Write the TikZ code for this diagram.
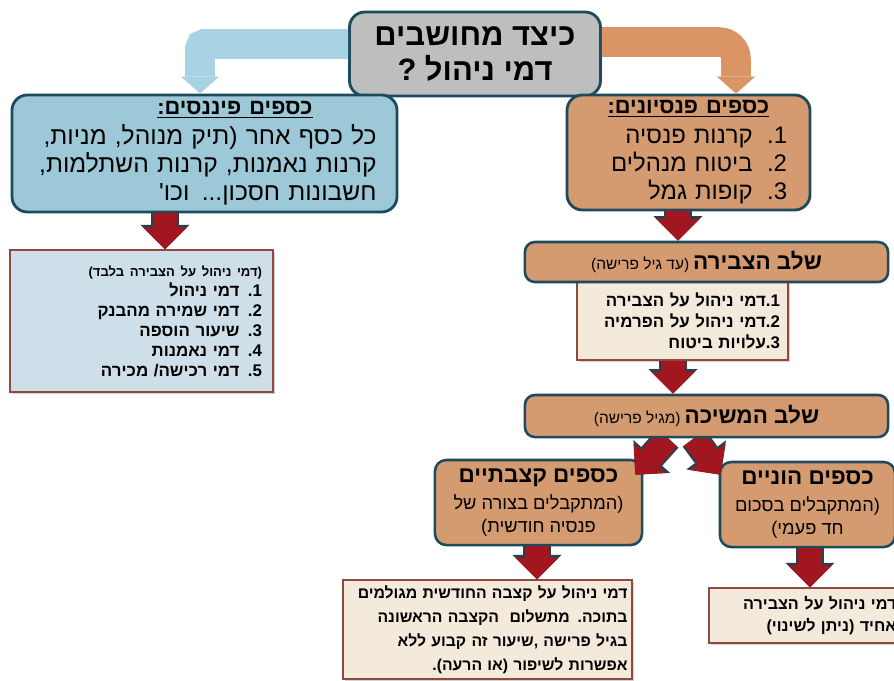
\documentclass[tikz,border=0pt]{standalone}
\usepackage{fontspec}
\setmainfont[Script=Hebrew,Ligatures=TeXOff]{Liberation Sans}
\usetikzlibrary{calc,arrows.meta,shadows,backgrounds}
\TeXXeTstate=1
\newcommand{\hb}[1]{\beginR#1\endR}
\definecolor{edge}{HTML}{1D4A5C}
\definecolor{grayfill}{HTML}{BEBEBE}
\definecolor{bluefill}{HTML}{9DC8D8}
\definecolor{bluelink}{HTML}{A9D3E3}
\definecolor{orangefill}{HTML}{D49A70}
\definecolor{orangelink}{HTML}{DA9466}
\definecolor{arrowred}{HTML}{A1161F}
\definecolor{arrowedge}{HTML}{2C3F4F}
\definecolor{listblue}{HTML}{CFDFE9}
\definecolor{listedge}{HTML}{8E4B3D}
\definecolor{cream}{HTML}{F4EADC}

\begin{document}
\begin{tikzpicture}[x=0.025cm, y=-0.025cm,
  bigbox/.style={draw=edge, line width=2pt, rounded corners=11pt, inner sep=0pt},
  stagebox/.style={draw=edge, line width=1.8pt, rounded corners=7pt, fill=orangefill, inner sep=0pt},
  listbox/.style={draw=listedge, line width=0.8pt, inner sep=0pt, drop shadow={opacity=0.35,shadow xshift=1.5pt,shadow yshift=-1.5pt}},
  fat/.style={draw=arrowred, line width=17pt, -{Triangle[width=31pt,length=15.5pt,line width=0pt]},
    preaction={draw=arrowedge, line width=20pt, -{Triangle[width=35pt,length=17.5pt,line width=0pt]}}},
  link/.style={line width=21pt, -{Triangle[width=27pt,length=12pt,line width=0pt]}}]
\useasboundingbox (0,0) rectangle (894,680);
\clip (0,0) rectangle (894,680);

\node[bigbox, fill=grayfill, minimum width=6.275cm, minimum height=2.1cm, align=center,
  font=\fontsize{22}{24.5}\selectfont\bfseries] (title) at (475,54) {\hb{כיצד מחושבים}\\\hb{דמי ניהול ?}};
\node[bigbox, fill=bluefill, minimum width=9.625cm, minimum height=2.925cm, text width=8.6cm, align=right,
  font=\fontsize{17.5}{20}\selectfont] (fin) at (204.5,153.5)
  {\hbox to\linewidth{\hfill{\fontsize{15.5}{18}\selectfont\bfseries\underline{\hb{כספים פיננסים:}}}\hspace{1.6cm}}\\[1pt]
   \hb{כל כסף אחר (תיק מנוהל, מניות,}\\\hb{קרנות נאמנות, קרנות השתלמות,}\\\hb{חשבונות חסכון... וכו'}};
\node[bigbox, fill=orangefill, minimum width=6.075cm, minimum height=2.875cm, text width=4.925cm, align=right,
  font=\fontsize{17}{20}\selectfont] (pens) at (688.5,152.5)
  {\hbox to\linewidth{\hfill{\fontsize{15.5}{18}\selectfont\bfseries\underline{\hb{כספים פנסיונים:}}}\hfill}\\[1pt]
   \hb{1.\hspace{0.6em}קרנות פנסיה}\\\hb{2.\hspace{0.6em}ביטוח מנהלים}\\\hb{3.\hspace{0.6em}קופות גמל}};

\coordinate (b1) at (200,44);
\coordinate (o1) at (736,42);
\draw[link, bluelink, rounded corners=3pt] (title.west |- b1) -| (fin.north -| b1);
\draw[link, orangelink, rounded corners=12pt] (title.east |- o1) -| (pens.north -| o1);

\node[listbox, fill=listblue, minimum width=6.575cm, minimum height=3.55cm, text width=6.025cm, align=right,
  font=\fontsize{12}{14.2}\selectfont\bfseries] (finlist) at (141.5,321)
  {{\fontsize{9.3}{12}\selectfont\hb{(דמי ניהול על הצבירה בלבד)}}\\\hb{1. דמי ניהול}\\\hb{2. דמי שמירה מהבנק}\\
   \hb{3. שיעור הוספה}\\\hb{4. דמי נאמנות}\\\hb{5. דמי רכישה/ מכירה}};

\node[listbox, fill=cream, minimum width=5.275cm, minimum height=1.95cm, text width=4.875cm, align=right,
  font=\fontsize{12}{15}\selectfont\bfseries] (acclist) at (682.5,321)
  {\hb{1.דמי ניהול על הצבירה}\\\hb{2.דמי ניהול על הפרמיה}\\\hb{3.עלויות ביטוח}};
\node[stagebox, minimum width=9.075cm, minimum height=1cm] (acc) at (706.5,262)
  {\hb{{\fontsize{16}{18}\selectfont\bfseries שלב הצבירה} {\fontsize{11}{13}\selectfont(עד גיל פרישה)}}};
\node[stagebox, minimum width=9.075cm, minimum height=1.05cm] (wd) at (706.5,416)
  {\hb{{\fontsize{16}{18}\selectfont\bfseries שלב המשיכה} {\fontsize{11}{13}\selectfont(מגיל פרישה)}}};

\coordinate (c6) at (668,0);
\coordinate (c7) at (694,0);
\begin{scope}[on background layer]
\node[stagebox, rounded corners=8pt, minimum width=5.175cm, minimum height=2.125cm, align=center,
  font=\fontsize{13}{16}\selectfont] (ann) at (538.5,502.5)
  {{\fontsize{16}{20}\selectfont\bfseries\hb{כספים קצבתיים}}\\[3pt]\hb{(המתקבלים בצורה של}\\\hb{פנסיה חודשית)}};
\node[stagebox, rounded corners=8pt, minimum width=4.375cm, minimum height=2.125cm, align=center,
  font=\fontsize{13}{16}\selectfont] (lump) at (807.5,504.5)
  {{\fontsize{16}{20}\selectfont\bfseries\hb{כספים הוניים}}\\[3pt]\hb{(המתקבלים בסכום}\\\hb{חד פעמי)}};
\draw[fat] (wd.south -| c6) -- ([shift={(-8,16)}]ann.north east);
\draw[fat] (wd.south -| c7) -- ([shift={(2,14)}]lump.north west);
\end{scope}

\node[listbox, fill=cream, minimum width=7.225cm, minimum height=2.475cm, text width=7.0cm, align=right,
  font=\fontsize{11.2}{17}\selectfont\bfseries] (annlist) at (487.5,629.5)
  {\hb{דמי ניהול על קצבה החודשית מגולמים}\\\hb{בתוכה. מתשלום \ הקצבה הראשונה}\\
   \hb{בגיל פרישה ,שיעור זה קבוע ללא}\\\hb{אפשרות לשיפור (או הרעה).}};
\node[listbox, fill=cream, minimum width=4.95cm, minimum height=1.375cm, text width=4.42cm, align=right,
  font=\fontsize{11.5}{16}\selectfont\bfseries] (lumplist) at (808,615.5)
  {\hb{דמי ניהול על הצבירה}\\\hb{אחיד (ניתן לשינוי)}};

\coordinate (c1) at (165,0);
\coordinate (c2) at (678,0);
\coordinate (c3) at (673,0);
\coordinate (c4) at (537,0);
\coordinate (c5) at (810,0);
\draw[fat] (fin.south -| c1) -- (finlist.north -| c1);
\draw[fat] (pens.south -| c2) -- (acc.north -| c2);
\draw[fat] (acclist.south -| c3) -- (wd.north -| c3);
\draw[fat] (ann.south -| c4) -- (annlist.north -| c4);
\draw[fat] (lump.south -| c5) -- (lumplist.north -| c5);
\end{tikzpicture}
\end{document}
